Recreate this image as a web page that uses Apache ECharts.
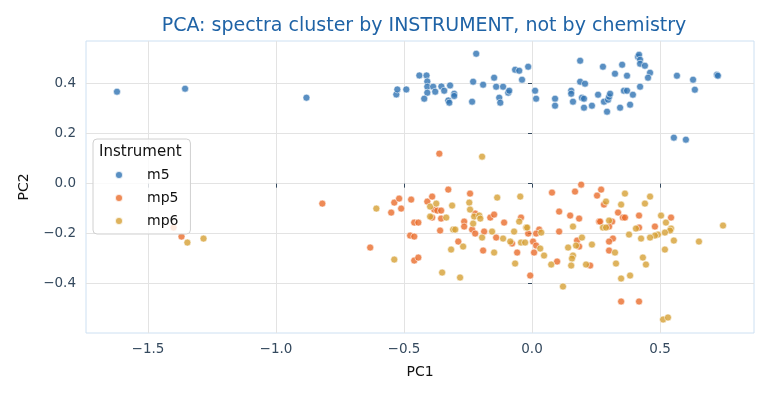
<!DOCTYPE html>
<html lang="en">
<head>
    <meta charset="UTF-8">
    <title>PCA by instrument</title>
    <script src="https://cdn.jsdelivr.net/npm/echarts@6/dist/echarts.min.js"></script>
</head>
<body style="margin:0;background:#fff">
<div id="chart" style="width:770px;height:396px"></div>
<script>
    // PC1 / PC2 scores
    var m5 = [[-1.621,0.368],[-1.355,0.380],[-0.881,0.344],[-0.530,0.357],[-0.526,0.377],[-0.491,0.377],[-0.440,0.433],[-0.412,0.433],[-0.409,0.409],[-0.409,0.388],[-0.409,0.364],[-0.421,0.340],[-0.386,0.388],[-0.378,0.368],[-0.354,0.389],[-0.343,0.372],[-0.320,0.393],[-0.327,0.333],[-0.323,0.324],[-0.304,0.360],[-0.304,0.351],[-0.234,0.328],[-0.230,0.408],[-0.218,0.520],[-0.191,0.396],[-0.148,0.424],[-0.140,0.388],[-0.128,0.344],[-0.124,0.324],[-0.113,0.388],[-0.093,0.364],[-0.089,0.372],[-0.066,0.456],[-0.050,0.452],[-0.039,0.416],[-0.015,0.468],[0.012,0.372],[0.016,0.340],[0.090,0.340],[0.090,0.312],[0.153,0.372],[0.153,0.360],[0.160,0.328],[0.188,0.492],[0.188,0.408],[0.207,0.400],[0.195,0.344],[0.203,0.340],[0.203,0.304],[0.234,0.312],[0.258,0.356],[0.277,0.468],[0.281,0.328],[0.293,0.288],[0.297,0.336],[0.301,0.348],[0.305,0.360],[0.324,0.440],[0.344,0.304],[0.352,0.476],[0.359,0.372],[0.371,0.432],[0.371,0.372],[0.383,0.316],[0.394,0.356],[0.414,0.508],[0.418,0.516],[0.422,0.496],[0.422,0.480],[0.422,0.388],[0.441,0.472],[0.461,0.444],[0.453,0.424],[0.566,0.432],[0.629,0.416],[0.636,0.376],[0.722,0.436],[0.726,0.432],[0.554,0.184],[0.601,0.176]];
    var mp5 = [[-1.400,-0.176],[-1.369,-0.212],[-0.819,-0.080],[-0.632,-0.256],[-0.550,-0.116],[-0.538,-0.076],[-0.519,-0.060],[-0.511,-0.100],[-0.472,-0.064],[-0.460,-0.156],[-0.444,-0.156],[-0.476,-0.208],[-0.460,-0.212],[-0.460,-0.308],[-0.444,-0.296],[-0.409,-0.072],[-0.390,-0.052],[-0.382,-0.104],[-0.370,-0.108],[-0.355,-0.108],[-0.390,-0.136],[-0.355,-0.140],[-0.359,-0.188],[-0.327,-0.024],[-0.288,-0.232],[-0.242,-0.040],[-0.222,-0.120],[-0.265,-0.152],[-0.265,-0.172],[-0.234,-0.184],[-0.222,-0.200],[-0.187,-0.192],[-0.191,-0.268],[-0.163,-0.136],[-0.148,-0.124],[-0.140,-0.216],[-0.109,-0.156],[-0.078,-0.240],[-0.058,-0.276],[-0.043,-0.136],[-0.015,-0.200],[0.004,-0.232],[0.016,-0.248],[0.008,-0.276],[-0.007,-0.368],[0.078,-0.036],[0.028,-0.184],[0.016,-0.200],[0.098,-0.312],[0.106,-0.112],[0.106,-0.192],[0.149,-0.128],[0.184,-0.140],[0.192,-0.004],[0.168,-0.032],[0.270,-0.024],[0.254,-0.048],[0.281,-0.084],[0.262,-0.152],[0.266,-0.152],[0.313,-0.152],[0.336,-0.116],[0.355,-0.136],[0.363,-0.136],[0.418,-0.128],[0.301,-0.172],[0.418,-0.176],[0.480,-0.172],[0.543,-0.136],[0.176,-0.228],[0.184,-0.252],[0.316,-0.220],[0.301,-0.232],[0.301,-0.268],[0.227,-0.328],[0.348,-0.472],[0.418,-0.472],[-0.362,0.120]];
    var mp6 = [[-1.346,-0.236],[-1.283,-0.220],[-0.608,-0.100],[-0.538,-0.304],[-0.398,-0.092],[-0.374,-0.080],[-0.398,-0.132],[-0.335,-0.136],[-0.351,-0.356],[-0.312,-0.088],[-0.308,-0.184],[-0.300,-0.184],[-0.316,-0.264],[-0.269,-0.252],[-0.281,-0.376],[-0.245,-0.076],[-0.242,-0.104],[-0.226,-0.132],[-0.206,-0.128],[-0.202,-0.140],[-0.230,-0.160],[-0.195,-0.216],[-0.136,-0.056],[-0.156,-0.192],[-0.148,-0.276],[-0.113,-0.220],[-0.085,-0.232],[-0.070,-0.192],[-0.066,-0.320],[-0.046,-0.052],[-0.050,-0.152],[-0.023,-0.176],[-0.019,-0.176],[-0.043,-0.236],[-0.027,-0.236],[0.032,-0.260],[0.036,-0.196],[0.047,-0.288],[0.075,-0.324],[0.121,-0.412],[0.141,-0.256],[0.289,-0.072],[0.363,-0.040],[0.348,-0.084],[0.461,-0.052],[0.441,-0.080],[0.160,-0.172],[0.301,-0.148],[0.277,-0.176],[0.289,-0.176],[0.406,-0.180],[0.504,-0.128],[0.523,-0.156],[0.543,-0.180],[0.539,-0.188],[0.519,-0.196],[0.492,-0.204],[0.480,-0.208],[0.461,-0.216],[0.426,-0.220],[0.379,-0.204],[0.554,-0.228],[0.652,-0.232],[0.746,-0.168],[0.519,-0.264],[0.172,-0.248],[0.195,-0.216],[0.234,-0.244],[0.324,-0.276],[0.160,-0.288],[0.156,-0.300],[0.153,-0.328],[0.211,-0.324],[0.328,-0.320],[0.433,-0.296],[0.445,-0.324],[0.348,-0.380],[0.383,-0.368],[0.512,-0.544],[0.531,-0.536],[-0.195,0.108]];

    var instruments = ['m5', 'mp5', 'mp6'];
    var colors = ['#2f73b3', '#ea6d2c', '#d6a034'];
    var xTicks = [-1.5, -1.0, -0.5, 0.0, 0.5];
    var yTicks = [-0.4, -0.2, 0.0, 0.2, 0.4];

    var font = 'DejaVu Sans';
    var ink = '#34495e';

    function mkSeries(name, data, i) {
        return {
            name: name,
            type: 'scatter',
            data: data,
            symbolSize: 7,
            itemStyle: {color: colors[i], opacity: 0.8, borderColor: '#fff', borderWidth: 0.7},
            emphasis: {disabled: true}
        };
    }

    function fmt(v) {
        return v.toFixed(1).replace('-', '\u2212');
    }

    var chart = echarts.init(document.getElementById('chart'));
    chart.setOption({
        animation: false,
        backgroundColor: '#fff',
        title: {
            text: 'PCA: spectra cluster by INSTRUMENT, not by chemistry',
            left: 419, top: 12, textAlign: 'center',
            textStyle: {fontFamily: font, fontSize: 19, fontWeight: 'normal', color: '#1f63a6'}
        },
        grid: {left: 86, right: 16, top: 41, bottom: 63, show: true, borderColor: '#cde0f2', borderWidth: 1},
        xAxis: {
            type: 'value', min: -1.742, max: 0.867,
            name: 'PC1', nameLocation: 'middle', nameGap: 32,
            nameTextStyle: {fontFamily: font, fontSize: 14, color: '#111'},
            axisLine: {show: false},
            axisTick: {show: true, length: 4, customValues: xTicks, lineStyle: {color: ink}},
            axisLabel: {customValues: xTicks, margin: 9, fontFamily: font, fontSize: 13.5, color: ink, formatter: fmt},
            splitLine: {show: true, lineStyle: {color: '#e3e3e3', width: 1}}
        },
        yAxis: {
            type: 'value', min: -0.598, max: 0.571,
            name: 'PC2', nameLocation: 'middle', nameGap: 55,
            nameTextStyle: {fontFamily: font, fontSize: 14, color: '#111'},
            axisLine: {show: false},
            axisTick: {show: true, length: 4, customValues: yTicks, lineStyle: {color: ink}},
            axisLabel: {customValues: yTicks, margin: 10, fontFamily: font, fontSize: 13.5, color: ink, formatter: fmt},
            splitLine: {show: true, lineStyle: {color: '#e3e3e3', width: 1}}
        },
        legend: {
            data: instruments,
            orient: 'vertical',
            left: 93, top: 139,
            padding: [28, 12, 5, 21],
            itemWidth: 46, itemHeight: 8, itemGap: 7,
            backgroundColor: 'rgba(255,255,255,0.8)',
            borderColor: '#d0d0d0', borderWidth: 1, borderRadius: 4,
            textStyle: {fontFamily: font, fontSize: 14, color: '#111', lineHeight: 16},
            selectedMode: false
        },
        graphic: [{
            type: 'text', left: 99, top: 145, z: 100,
            style: {text: 'Instrument', fontFamily: font, fontSize: 15, fill: '#111'}
        }],
        series: instruments.map(function (name, i) {
            return mkSeries(name, [m5, mp5, mp6][i], i);
        })
    });
</script>
</body>
</html>
